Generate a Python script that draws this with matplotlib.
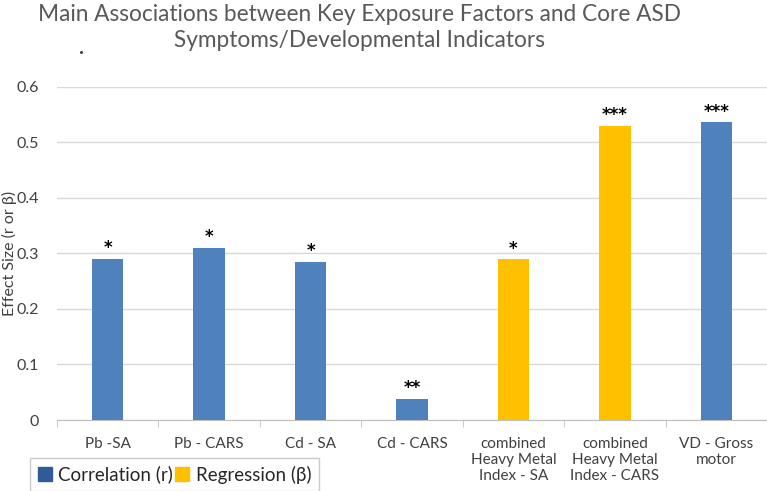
import numpy as np
import matplotlib.pyplot as plt
from matplotlib.patches import Patch
from matplotlib.lines import Line2D

plt.rcParams['font.family'] = ['Lato', 'DejaVu Sans']

categories = ['Pb -SA', 'Pb - CARS', 'Cd - SA', 'Cd - CARS',
              'combined\nHeavy Metal\nIndex - SA',
              'combined\nHeavy Metal\nIndex - CARS',
              'VD - Gross\nmotor']
values = [0.29, 0.31, 0.285, 0.038, 0.289, 0.529, 0.536]
kinds = ['r', 'r', 'r', 'r', 'b', 'b', 'r']
stars = ['*', '*', '*', '**', '*', '***', '***']

blue = '#4F81BD'
yellow = '#FFC000'
colors = [blue if k == 'r' else yellow for k in kinds]

fig = plt.figure(figsize=(7.67, 4.91), dpi=100)
ax = fig.add_axes([57 / 767, 1 - 420 / 491, 710 / 767, (420 - 86.7) / 491])

x = np.arange(len(categories))
ax.bar(x, values, width=0.31, color=colors, zorder=3)

for xi, v, s in zip(x, values, stars):
    ax.text(xi, v + 0.003, s, ha='center', va='bottom', fontsize=12,
            fontweight='bold', color='black', family='DejaVu Sans')

ax.set_xlim(-0.5, len(categories) - 0.5)
ax.set_ylim(0, 0.6)
ax.set_yticks(np.arange(0, 0.61, 0.1))
ax.set_yticklabels(['0', '0.1', '0.2', '0.3', '0.4', '0.5', '0.6'])
ax.yaxis.grid(True, color='#D9D9D9', linewidth=1, zorder=0)
ax.tick_params(axis='y', length=0, labelsize=11.5, labelcolor='#404040', pad=13)

ax.set_xticks(x)
ax.set_xticklabels(categories, fontsize=11, color='#404040', linespacing=1.2)
ax.tick_params(axis='x', length=0, pad=12)
ax.set_xticks(np.arange(-0.5, len(categories)), minor=True)
ax.tick_params(axis='x', which='minor', length=5, color='#BFBFBF', direction='out')

for sp in ['top', 'right', 'left']:
    ax.spines[sp].set_visible(False)
ax.spines['bottom'].set_color('#BFBFBF')

ax.set_ylabel('Effect Size (r or β)', fontsize=11.5, color='#404040')
ax.yaxis.set_label_coords(-40 / 710, 0.5)

fig.text(360 / 767, 1 - 4 / 491,
         'Main Associations between Key Exposure Factors and Core ASD\nSymptoms/Developmental Indicators',
         ha='center', va='top', fontsize=16.3, color='#595959', linespacing=1.3)
# stray dot under the title
fig.add_artist(Line2D([81 / 767], [1 - 52 / 491], marker='o', markersize=1.2,
                      color='#404040', linestyle='none', transform=fig.transFigure))

handles = [Patch(color='#2F5B96', label='Correlation (r)'),
           Patch(color=yellow, label='Regression (β)')]
leg = fig.legend(handles=handles, loc='lower left', ncol=2,
                 bbox_to_anchor=(30 / 767, 0.0), borderaxespad=0, fontsize=13.5,
                 handlelength=0.75, handleheight=0.75, handletextpad=0.35,
                 columnspacing=0.1, fancybox=False, edgecolor='#BFBFBF',
                 borderpad=0.4)
leg.get_frame().set_linewidth(1)
for t in leg.get_texts():
    t.set_color('#262626')

fig.savefig('out.png', dpi=100)
